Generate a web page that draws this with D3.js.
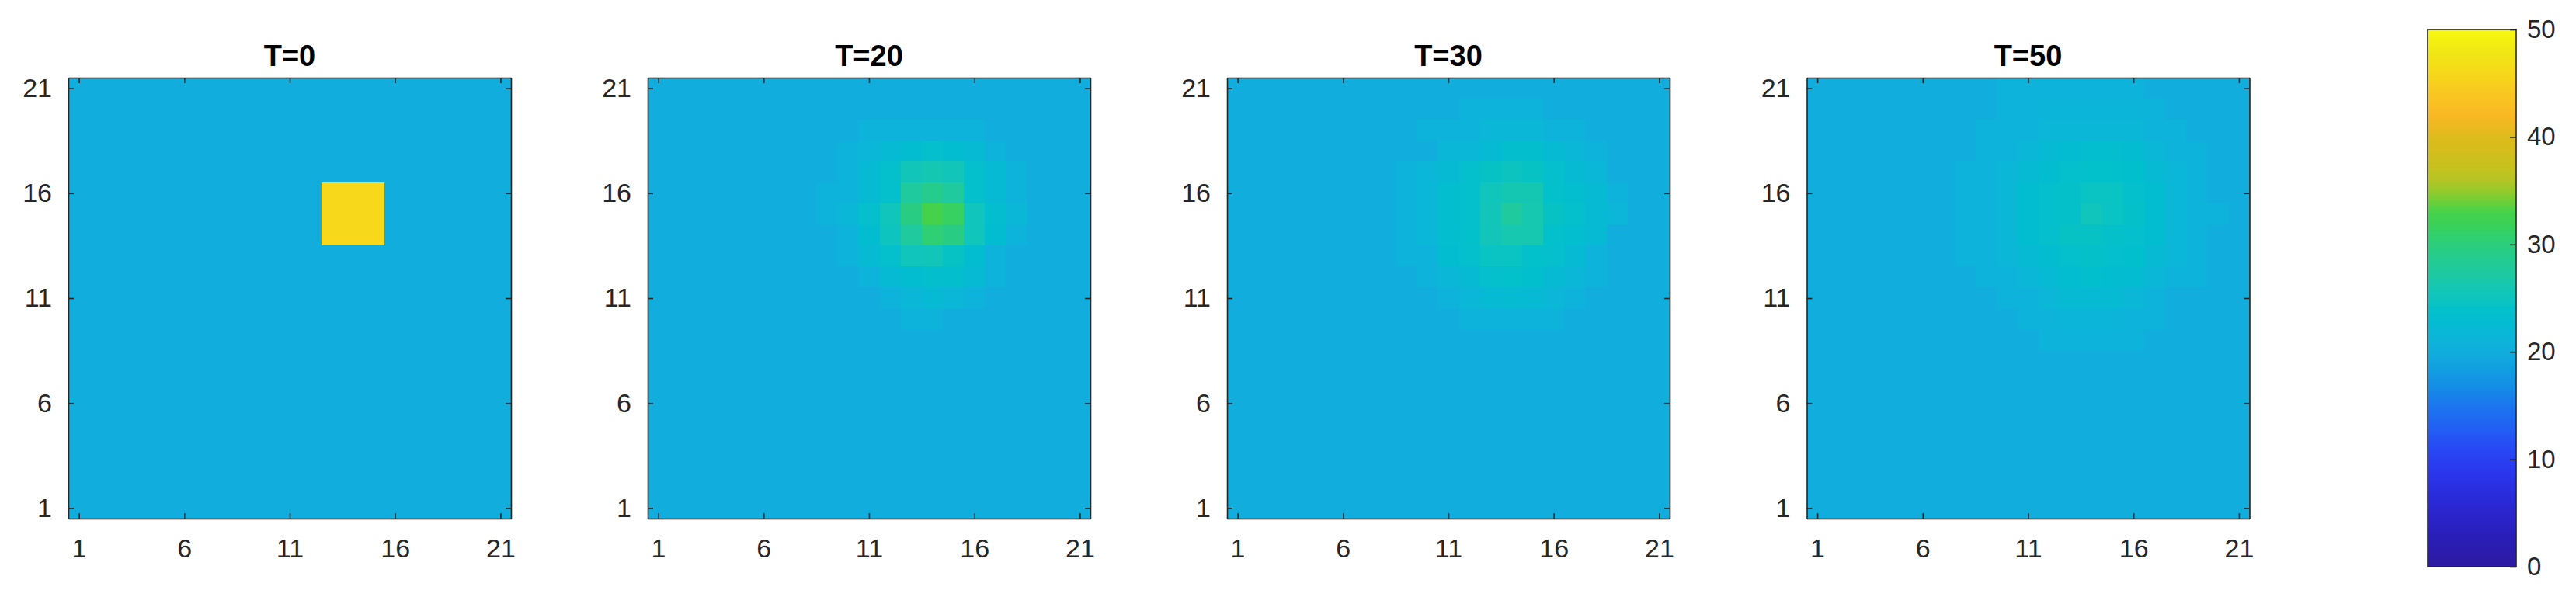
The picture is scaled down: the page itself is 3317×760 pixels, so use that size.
<!DOCTYPE html>
<html>
<head>
<meta charset="utf-8">
<script src="https://cdn.jsdelivr.net/npm/d3@7"></script>
<style>
html, body { margin: 0; padding: 0; background: #ffffff; }
svg { display: block; }
</style>
</head>
<body>
<svg id="chart" width="3317" height="760"></svg>
<script>
// ---------------- DATA ----------------
const titles = ["T=0", "T=20", "T=30", "T=50"];
const gridX = [1,2,3,4,5,6,7,8,9,10,11,12,13,14,15,16,17,18,19,20,21];
const gridY = [21,20,19,18,17,16,15,14,13,12,11,10,9,8,7,6,5,4,3,2,1]; // row order (top to bottom)
const axisTicks = [1, 6, 11, 16, 21];
const colorbarTicks = [0, 10, 20, 30, 40, 50];
const colorDomain = [0, 50];

// Temperature grids, rows from y=21 (top) down to y=1, columns x=1..21
const gridT0 = [
[20,20,20,20,20,20,20,20,20,20,20,20,20,20,20,20,20,20,20,20,20],
[20,20,20,20,20,20,20,20,20,20,20,20,20,20,20,20,20,20,20,20,20],
[20,20,20,20,20,20,20,20,20,20,20,20,20,20,20,20,20,20,20,20,20],
[20,20,20,20,20,20,20,20,20,20,20,20,20,20,20,20,20,20,20,20,20],
[20,20,20,20,20,20,20,20,20,20,20,20,20,20,20,20,20,20,20,20,20],
[20,20,20,20,20,20,20,20,20,20,20,20,46,46,46,20,20,20,20,20,20],
[20,20,20,20,20,20,20,20,20,20,20,20,46,46,46,20,20,20,20,20,20],
[20,20,20,20,20,20,20,20,20,20,20,20,46,46,46,20,20,20,20,20,20],
[20,20,20,20,20,20,20,20,20,20,20,20,20,20,20,20,20,20,20,20,20],
[20,20,20,20,20,20,20,20,20,20,20,20,20,20,20,20,20,20,20,20,20],
[20,20,20,20,20,20,20,20,20,20,20,20,20,20,20,20,20,20,20,20,20],
[20,20,20,20,20,20,20,20,20,20,20,20,20,20,20,20,20,20,20,20,20],
[20,20,20,20,20,20,20,20,20,20,20,20,20,20,20,20,20,20,20,20,20],
[20,20,20,20,20,20,20,20,20,20,20,20,20,20,20,20,20,20,20,20,20],
[20,20,20,20,20,20,20,20,20,20,20,20,20,20,20,20,20,20,20,20,20],
[20,20,20,20,20,20,20,20,20,20,20,20,20,20,20,20,20,20,20,20,20],
[20,20,20,20,20,20,20,20,20,20,20,20,20,20,20,20,20,20,20,20,20],
[20,20,20,20,20,20,20,20,20,20,20,20,20,20,20,20,20,20,20,20,20],
[20,20,20,20,20,20,20,20,20,20,20,20,20,20,20,20,20,20,20,20,20],
[20,20,20,20,20,20,20,20,20,20,20,20,20,20,20,20,20,20,20,20,20],
[20,20,20,20,20,20,20,20,20,20,20,20,20,20,20,20,20,20,20,20,20]
];

const gridT20 = [
[20,20,20,20,20,20,20,20,20,20,20,20,20,20,20,20,20,20,20,20,20],
[20,20,20,20,20,20,20,20,20,20,20,20,20,20,20,20,20,20,20,20,20],
[20,20,20,20,20,20,20,20,20,20,21,21,21,21,21,21,20,20,20,20,20],
[20,20,20,20,20,20,20,20,20,21,21.7,22.4,23,23.7,23,22.4,21,20,20,20,20],
[20,20,20,20,20,20,20,20,20,21,22.4,23.7,25.5,26,25.5,23.7,22.4,21,20,20,20],
[20,20,20,20,20,20,20,20,21,21,22.4,23.7,27.5,29,27.5,23.7,22.4,21,20,20,20],
[20,20,20,20,20,20,20,20,21,21.7,23.7,25.3,29.5,32.8,31.5,25.3,23.3,21.7,20,20,20],
[20,20,20,20,20,20,20,20,20,21,23,25,27.5,30.5,29.5,25.3,23,21,20,20,20],
[20,20,20,20,20,20,20,20,20,21,22.4,23.7,25.3,25.5,24.4,23,21,20,20,20,20],
[20,20,20,20,20,20,20,20,20,20,21,22.4,23,23.5,23.5,22.4,21,20,20,20,20],
[20,20,20,20,20,20,20,20,20,20,20,21,21.7,22.4,21.7,21,20,20,20,20,20],
[20,20,20,20,20,20,20,20,20,20,20,20,21,21,20,20,20,20,20,20,20],
[20,20,20,20,20,20,20,20,20,20,20,20,20,20,20,20,20,20,20,20,20],
[20,20,20,20,20,20,20,20,20,20,20,20,20,20,20,20,20,20,20,20,20],
[20,20,20,20,20,20,20,20,20,20,20,20,20,20,20,20,20,20,20,20,20],
[20,20,20,20,20,20,20,20,20,20,20,20,20,20,20,20,20,20,20,20,20],
[20,20,20,20,20,20,20,20,20,20,20,20,20,20,20,20,20,20,20,20,20],
[20,20,20,20,20,20,20,20,20,20,20,20,20,20,20,20,20,20,20,20,20],
[20,20,20,20,20,20,20,20,20,20,20,20,20,20,20,20,20,20,20,20,20],
[20,20,20,20,20,20,20,20,20,20,20,20,20,20,20,20,20,20,20,20,20],
[20,20,20,20,20,20,20,20,20,20,20,20,20,20,20,20,20,20,20,20,20]
];

const gridT30 = [
[20,20,20,20,20,20,20,20,20,20,20,20,20,20,20,20,20,20,20,20,20],
[20,20,20,20,20,20,20,20,20,20,20,21,21,21,21,20,20,20,20,20,20],
[20,20,20,20,20,20,20,20,20,21,21,21,21.7,21.7,21.7,21,21,20,20,20,20],
[20,20,20,20,20,20,20,20,20,20,21.7,21.7,22.4,23.5,23.5,22.4,21.7,21,20,20,20],
[20,20,20,20,20,20,20,20,21,21.7,22.4,23.7,24.4,24.8,24.4,23.7,22.4,21.7,20,20,20],
[20,20,20,20,20,20,20,20,21,21.7,23.2,23.7,25.3,26,26,23.9,23.2,22.4,21,20,20],
[20,20,20,20,20,20,20,20,21,21.7,23.2,23.7,25.5,27.5,26.3,24.4,23.7,22.4,21.7,20,20],
[20,20,20,20,20,20,20,20,21,21.7,23.2,23.9,25.5,26.3,26.3,23.9,23.2,22.4,20,20,20],
[20,20,20,20,20,20,20,20,21,21,23,23.7,24.6,24.6,23.9,23.7,22.4,21,20,20,20],
[20,20,20,20,20,20,20,20,20,21,21.7,22.4,23.7,23.9,23.4,22.4,21.7,21,20,20,20],
[20,20,20,20,20,20,20,20,20,20,21,21.7,22.4,22.6,22.4,21.7,21,20,20,20,20],
[20,20,20,20,20,20,20,20,20,20,20,21,21,21,21,21,20,20,20,20,20],
[20,20,20,20,20,20,20,20,20,20,20,20,20,20,20,20,20,20,20,20,20],
[20,20,20,20,20,20,20,20,20,20,20,20,20,20,20,20,20,20,20,20,20],
[20,20,20,20,20,20,20,20,20,20,20,20,20,20,20,20,20,20,20,20,20],
[20,20,20,20,20,20,20,20,20,20,20,20,20,20,20,20,20,20,20,20,20],
[20,20,20,20,20,20,20,20,20,20,20,20,20,20,20,20,20,20,20,20,20],
[20,20,20,20,20,20,20,20,20,20,20,20,20,20,20,20,20,20,20,20,20],
[20,20,20,20,20,20,20,20,20,20,20,20,20,20,20,20,20,20,20,20,20],
[20,20,20,20,20,20,20,20,20,20,20,20,20,20,20,20,20,20,20,20,20],
[20,20,20,20,20,20,20,20,20,20,20,20,20,20,20,20,20,20,20,20,20]
];

const gridT50 = [
[20,20,20,20,20,20,20,20,20,21,21,21,21,21,21,21,20,20,20,20,20],
[20,20,20,20,20,20,20,20,20,21,21,21.4,21.4,21.4,21.4,21.4,21,20,20,20,20],
[20,20,20,20,20,20,20,20,21,21,21,21.7,21.7,21.7,21.7,21.7,21,21,20,20,20],
[20,20,20,20,20,20,20,20,21,21,21.7,22.4,22.8,23.2,23.2,22.8,21.7,21,21,20,20],
[20,20,20,20,20,20,20,21,21,21.7,22.4,23,23.7,23.9,23.9,23.4,22.4,21.7,21,20,20],
[20,20,20,20,20,20,20,21,21,21.7,23,23.7,24.1,24.6,24.6,23.7,23,21.7,21,20,20],
[20,20,20,20,20,20,20,21,21,21.7,23,23.7,24.1,25.2,24.6,24.1,23,21.7,21,21,20],
[20,20,20,20,20,20,20,21,21,21.7,23,23.7,24.4,24.4,24.1,23.7,23,21.7,21,20,20],
[20,20,20,20,20,20,20,21,21,21.7,22.4,23,23.7,24.1,23.7,23.4,22.4,21.7,21,20,20],
[20,20,20,20,20,20,20,20,21,21,21.7,22.4,23,23.4,23,22.8,21.7,21,21,20,20],
[20,20,20,20,20,20,20,20,20,21,21,21.7,22.4,22.4,22.4,21.7,21,20,20,20,20],
[20,20,20,20,20,20,20,20,20,20,21,21,21.4,21.4,21.4,21,21,20,20,20,20],
[20,20,20,20,20,20,20,20,20,20,20,21,21,21,21,21,20,20,20,20,20],
[20,20,20,20,20,20,20,20,20,20,20,20,20,20,20,20,20,20,20,20,20],
[20,20,20,20,20,20,20,20,20,20,20,20,20,20,20,20,20,20,20,20,20],
[20,20,20,20,20,20,20,20,20,20,20,20,20,20,20,20,20,20,20,20,20],
[20,20,20,20,20,20,20,20,20,20,20,20,20,20,20,20,20,20,20,20,20],
[20,20,20,20,20,20,20,20,20,20,20,20,20,20,20,20,20,20,20,20,20],
[20,20,20,20,20,20,20,20,20,20,20,20,20,20,20,20,20,20,20,20,20],
[20,20,20,20,20,20,20,20,20,20,20,20,20,20,20,20,20,20,20,20,20],
[20,20,20,20,20,20,20,20,20,20,20,20,20,20,20,20,20,20,20,20,20]
];

const grids = [gridT0, gridT20, gridT30, gridT50];

// Colormap (parula-like, as seen in the picture)
const cmapValues = [0,3,6,9,11,13,15,17,19,20,21,22,23,24,25,26,27,28,29,30,31,32,33,34,35,36,37,38,39,40,41,42,43,44,45,46,47,48,49,50];
const cmapColors = ["#2b1a9f","#2a1ebb","#2a28d6","#2a38ee","#2848f5","#2260f5","#1b76ef","#1490e6","#11a4df","#10addd",
  "#0db3db","#08b8d5","#02bdd0","#03c1ca","#0ec4be","#14c7b3","#1bc9a4","#20cb98","#25cc8b","#2bce7a",
  "#32d06b","#3cd157","#46d24a","#6ccf38","#95ca2c","#b3c525","#c4c21f","#cdbf1d","#d6bd1c","#dcbb1c",
  "#ecb920","#f8b824","#fbbf23","#f9c621","#f8cf1e","#f7d81a","#f3e017","#f0e814","#f4f011","#f8f90e"];

// ---------------- LAYOUT ----------------
const panelLefts = [88, 834, 1580, 2326.5];
const panelTop = 100, panelW = 570, panelH = 568;
const cbLeft = 3126, cbW = 114, cbTop = 38, cbBottom = 730;
const textColor = "#262626";
const fontFamily = "'Liberation Sans', Arial, Helvetica, sans-serif";

const color = d3.scaleLinear().domain(cmapValues).range(cmapColors).interpolate(d3.interpolateRgb).clamp(true);

const svg = d3.select("#chart");

grids.forEach((grid, p) => {
  const g = svg.append("g").attr("transform", `translate(${panelLefts[p]},${panelTop})`);
  const x = d3.scaleLinear().domain([0.5, 21.5]).range([0, panelW]);
  const y = d3.scaleLinear().domain([0.5, 21.5]).range([panelH, 0]);

  const cells = [];
  grid.forEach((row, r) => row.forEach((v, c) => cells.push({ x: gridX[c], y: gridY[r], v })));

  g.append("g").selectAll("rect").data(cells).join("rect")
    .attr("x", d => x(d.x - 0.5))
    .attr("y", d => y(d.y + 0.5))
    .attr("width", d => x(d.x + 0.5) - x(d.x - 0.5) + 0.5)
    .attr("height", d => y(d.y - 0.5) - y(d.y + 0.5) + 0.5)
    .attr("fill", d => color(d.v))
    .attr("shape-rendering", "crispEdges");

  const tickLen = 7;
  const styleAxis = sel => {
    sel.selectAll(".domain").attr("stroke", textColor).attr("stroke-width", 1.6);
    sel.selectAll(".tick line").attr("stroke", textColor).attr("stroke-width", 1.6);
    sel.selectAll("text").attr("fill", textColor).style("font-family", fontFamily).style("font-size", "34px");
  };

  g.append("g").attr("transform", `translate(0,${panelH})`)
    .call(d3.axisBottom(x).tickValues(axisTicks).tickSize(-tickLen).tickSizeOuter(0).tickPadding(26))
    .call(styleAxis);
  g.append("g")
    .call(d3.axisLeft(y).tickValues(axisTicks).tickSize(-tickLen).tickSizeOuter(0).tickPadding(21))
    .call(styleAxis);
  g.append("g")
    .call(d3.axisTop(x).tickValues(axisTicks).tickSize(-tickLen).tickSizeOuter(0).tickFormat(""))
    .call(styleAxis);
  g.append("g").attr("transform", `translate(${panelW},0)`)
    .call(d3.axisRight(y).tickValues(axisTicks).tickSize(-tickLen).tickSizeOuter(0).tickFormat(""))
    .call(styleAxis);

  g.append("text")
    .attr("x", panelW / 2).attr("y", 85 - panelTop)
    .attr("text-anchor", "middle")
    .style("font-family", fontFamily).style("font-size", "38px").style("font-weight", "bold")
    .attr("fill", "#000")
    .text(titles[p]);
});

// ---------------- COLORBAR ----------------
const cbScale = d3.scaleLinear().domain(colorDomain).range([cbBottom, cbTop]);
const cbG = svg.append("g");
const steps = d3.range(0, 256);
const stepVal = i => colorDomain[0] + i * (colorDomain[1] - colorDomain[0]) / 256;
cbG.selectAll("rect").data(steps).join("rect")
  .attr("x", cbLeft)
  .attr("width", cbW)
  .attr("y", i => cbScale(stepVal(i + 1)))
  .attr("height", i => cbScale(stepVal(i)) - cbScale(stepVal(i + 1)) + 0.6)
  .attr("fill", i => color(stepVal(i + 0.5)))
  .attr("shape-rendering", "crispEdges");

cbG.append("rect")
  .attr("x", cbLeft).attr("y", cbTop).attr("width", cbW).attr("height", cbBottom - cbTop)
  .attr("fill", "none").attr("stroke", textColor).attr("stroke-width", 1.6);

const cbAxis = svg.append("g").attr("transform", `translate(${cbLeft + cbW},0)`)
  .call(d3.axisRight(cbScale).tickValues(colorbarTicks).tickSize(-8).tickSizeOuter(0).tickPadding(14));
cbAxis.select(".domain").remove();
cbAxis.selectAll(".tick line").attr("stroke", textColor).attr("stroke-width", 1.6);
cbAxis.selectAll("text").attr("fill", textColor).style("font-family", fontFamily).style("font-size", "33px");
</script>
</body>
</html>
